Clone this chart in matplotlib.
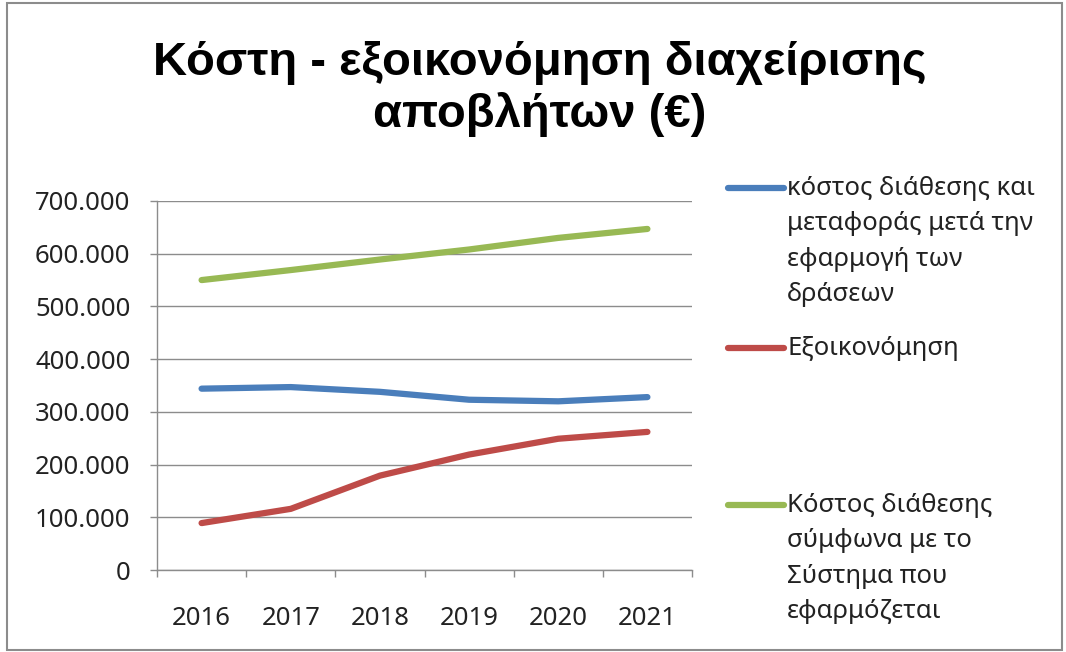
import matplotlib
matplotlib.use("Agg")
import matplotlib.pyplot as plt
from matplotlib.lines import Line2D
from matplotlib.patches import Rectangle
from matplotlib.ticker import FuncFormatter, MultipleLocator, FixedLocator

years = ["2016", "2017", "2018", "2019", "2020", "2021"]
cost_after_actions = [344000, 347000, 338000, 323000, 320000, 328000]
savings = [89000, 116000, 179000, 219000, 249000, 262000]
cost_current_system = [550000, 569000, 589000, 608000, 630000, 647000]

labels = [
    "κόστος διάθεσης και\nμεταφοράς μετά την\nεφαρμογή των\nδράσεων",
    "Εξοικονόμηση",
    "Κόστος διάθεσης\nσύμφωνα με το\nΣύστημα που\nεφαρμόζεται",
]
colors = ["#4A7EBB", "#BE4B48", "#98B954"]
title = "Κόστη - εξοικονόμηση διαχείρισης\nαποβλήτων (€)"

W, H = 1066, 652
fig = plt.figure(figsize=(W / 100, H / 100), dpi=100)
fig.patch.set_facecolor("white")

# chart frame
fig.patches.append(Rectangle((7 / W, 2 / H), 1055 / W, 647 / H, transform=fig.transFigure,
                             fill=False, edgecolor="#8c8c8c", linewidth=1.5))

ax = fig.add_axes([157 / W, 1 - 570 / H, 535 / W, 369 / H])
x = list(range(len(years)))
for series, c in zip([cost_after_actions, savings, cost_current_system], colors):
    ax.plot(x, series, color=c, linewidth=4.5, solid_capstyle="round", solid_joinstyle="round")

ax.set_xlim(-0.5, len(years) - 0.5)
ax.set_ylim(0, 700000)
ax.yaxis.set_major_locator(MultipleLocator(100000))
ax.yaxis.set_major_formatter(FuncFormatter(lambda v, p: f"{int(v):,}".replace(",", ".")))
ax.grid(axis="y", color="#8c8c8c", linewidth=1.0)
ax.set_axisbelow(True)

ax.xaxis.set_major_locator(FixedLocator(x))
ax.set_xticklabels(years)
ax.xaxis.set_minor_locator(FixedLocator([i - 0.5 for i in range(len(years) + 1)]))
ax.tick_params(axis="x", which="major", length=0, pad=26, labelsize=18.5,
               labelfontfamily="Noto Sans", labelcolor="#222222")
ax.tick_params(axis="x", which="minor", length=5, color="#8c8c8c", width=1.0)
ax.tick_params(axis="y", length=5, color="#8c8c8c", width=1.0, pad=14, labelsize=18.5,
               labelfontfamily="Noto Sans", labelcolor="#222222")

for s in ["top", "right"]:
    ax.spines[s].set_visible(False)
for s in ["left", "bottom"]:
    ax.spines[s].set_color("#8c8c8c")
    ax.spines[s].set_linewidth(1.0)

fig.text(540 / W, 1 - 89 / H, title, ha="center", va="center",
         fontsize=34, fontweight="bold", family="Liberation Sans", linespacing=1.2)

# legend drawn by hand to match the spacing of the original
legend_y = [188, 348, 505]
for lab, c, yy in zip(labels, colors, legend_y):
    fig.add_artist(Line2D([728 / W, 784 / W], [1 - yy / H, 1 - yy / H], color=c,
                          linewidth=4.5, solid_capstyle="round", transform=fig.transFigure))
    fig.text(787 / W, 1 - (yy - 12) / H, lab, ha="left", va="top", fontsize=18.5,
             family="Noto Sans", linespacing=1.55, color="#222222")

fig.savefig("out.png", dpi=100)
